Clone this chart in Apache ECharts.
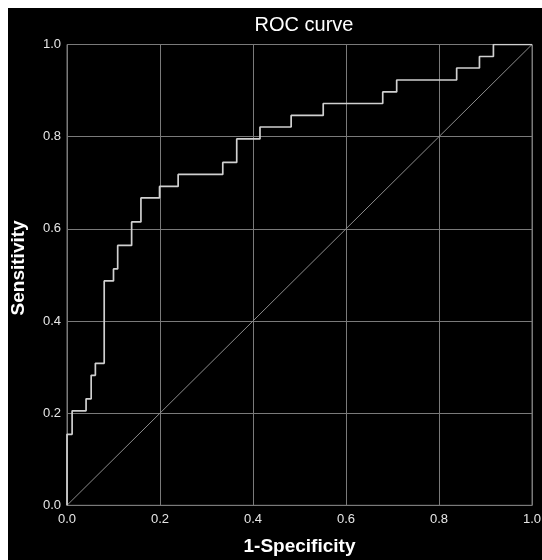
<!DOCTYPE html>
<html>
<head>
<meta charset="utf-8">
<script src="https://cdn.jsdelivr.net/npm/echarts@6/dist/echarts.min.js"></script>
<style>
  html, body { margin: 0; padding: 0; background: #fff; }
  #chart { position: absolute; left: 8px; top: 8px; width: 534px; height: 552px; background: #000; }
</style>
</head>
<body>
<div id="chart"></div>
<script>
// ROC curve vertices (1-specificity, sensitivity), step drawn horizontally then up
const fpr = [0, 0, 0.011, 0.041, 0.052, 0.061, 0.080, 0.100, 0.109, 0.139, 0.159, 0.199, 0.239,
  0.335, 0.365, 0.415, 0.482, 0.551, 0.679, 0.709, 0.838, 0.887, 0.917, 1.0];
const tpr = [0, 0.154, 0.205, 0.231, 0.282, 0.308, 0.487, 0.513, 0.564, 0.615, 0.667, 0.692, 0.718,
  0.744, 0.795, 0.821, 0.846, 0.872, 0.897, 0.923, 0.949, 0.974, 1.0, 1.0];
// reference diagonal
const refX = [0, 1];
const refY = [0, 1];
const tickLabels = ['0.0', '0.2', '0.4', '0.6', '0.8', '1.0'];

const chart = echarts.init(document.getElementById('chart'));

const font = "'Liberation Sans', Arial, sans-serif";
const gridColor = '#7a7a7a';

const option = {
  backgroundColor: '#000',
  animation: false,
  title: {
    text: 'ROC curve',
    left: 291,
    top: 2,
    textAlign: 'center',
    textStyle: { color: '#fff', fontFamily: font, fontSize: 20, fontWeight: 'normal' }
  },
  grid: {
    left: 59, right: 10, top: 36.5, bottom: 54.7,
    outerBoundsMode: 'none',
    containLabel: false,
    show: true, borderColor: gridColor, borderWidth: 1
  },
  xAxis: {
    type: 'value', min: 0, max: 1, interval: 0.2,
    name: '1-Specificity', nameLocation: 'middle', nameGap: 32,
    nameTextStyle: { color: '#fff', fontFamily: font, fontSize: 19, fontWeight: 'bold' },
    axisLine: { show: true, lineStyle: { color: gridColor } },
    axisTick: { show: false },
    axisLabel: {
      color: '#e6e6e6', fontFamily: font, fontSize: 13, margin: 8,
      formatter: v => tickLabels[Math.round(v * 5)]
    },
    splitLine: { show: true, lineStyle: { color: gridColor, width: 1 } }
  },
  yAxis: {
    type: 'value', min: 0, max: 1, interval: 0.2,
    name: 'Sensitivity', nameLocation: 'middle', nameGap: 39,
    nameTextStyle: { color: '#fff', fontFamily: font, fontSize: 19, fontWeight: 'bold', padding: [0, 0, 0, 14] },
    axisLine: { show: true, lineStyle: { color: gridColor } },
    axisTick: { show: false },
    axisLabel: {
      color: '#e6e6e6', fontFamily: font, fontSize: 13, margin: 6,
      formatter: v => tickLabels[Math.round(v * 5)]
    },
    splitLine: { show: true, lineStyle: { color: gridColor, width: 1 } }
  },
  series: [
    {
      type: 'line',
      data: refX.map((x, i) => [x, refY[i]]),
      symbol: 'none',
      lineStyle: { color: '#8c8c8c', width: 1 }
    },
    {
      type: 'line',
      step: 'end',
      data: fpr.map((x, i) => [x, tpr[i]]),
      symbol: 'none',
      lineStyle: { color: '#d0d0d0', width: 1.7 }
    }
  ]
};

chart.setOption(option);
</script>
</body>
</html>
